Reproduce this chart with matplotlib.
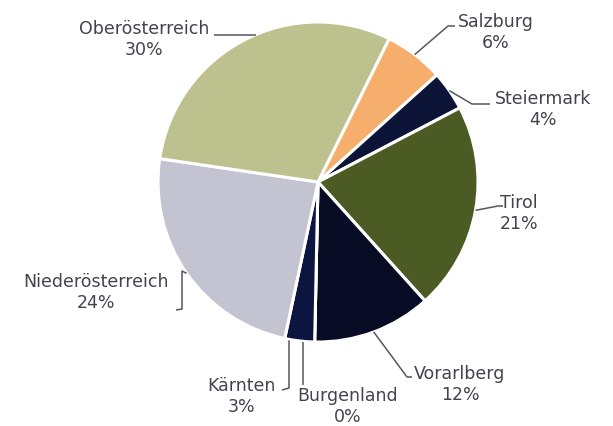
import numpy as np
import matplotlib.pyplot as plt

# Anteile nach Bundesland (Prozent), im Uhrzeigersinn ab Salzburg
regions = ['Salzburg', 'Steiermark', 'Tirol', 'Vorarlberg', 'Burgenland',
           'Kärnten', 'Niederösterreich', 'Oberösterreich']
shares = [6, 4, 21, 12, 0, 3, 24, 30]
colors = ['#f5ae6c', '#0c1538', '#4c5a24', '#070c24', '#0c1538',
          '#0c1440', '#c4c3d1', '#bdc18e']

W, H = 613, 427
cx, cy, R = 318, H - 183, 160

fig = plt.figure(figsize=(6.13, 4.27), dpi=100)
ax = fig.add_axes([0, 0, 1, 1])

explode = [0, 0.01, 0.025, 0.01, 0, 0, 0, 0]
wedges, _ = ax.pie(shares, colors=colors, startangle=63.6, counterclock=False,
                   center=(cx, cy), radius=R, explode=explode,
                   wedgeprops=dict(edgecolor='white', linewidth=2.2))
ax.set_xlim(0, W)
ax.set_ylim(0, H)
ax.set_aspect('equal')
ax.axis('off')

# Beschriftung: Textmitte (x, y von oben) und Knickpunkte der Hinweislinie
layout = {
    'Oberösterreich':   ((144, 29), [(214, 36)]),
    'Salzburg':         ((496, 22), [(448, 27), (455, 27)]),
    'Steiermark':       ((543, 99), [(472, 105), (490, 105)]),
    'Tirol':            ((519, 203), [(498, 207), (503, 207)]),
    'Vorarlberg':       ((460, 374), [(407, 378), (412, 378)]),
    'Burgenland':       ((348, 396), [(303, 386)]),
    'Kärnten':          ((241, 386), [(289, 389), (282, 391)]),
    'Niederösterreich': ((96, 282), [(182, 272), (182, 310), (176, 311)]),
}
# Linien, die senkrecht bzw. waagrecht am Kreisrand ansetzen
anchor_x = {'Burgenland': 303, 'Kärnten': 289}
anchor_y = {'Oberösterreich': 36}

for w, name, val in zip(wedges, regions, shares):
    mid = np.deg2rad((w.theta1 + w.theta2) / 2)
    px, py = cx + R * np.cos(mid), cy + R * np.sin(mid)
    if name in anchor_x:
        px = anchor_x[name]
        py = cy - np.sqrt(R**2 - (px - cx)**2) - 1
    if name in anchor_y:
        py = H - anchor_y[name]
        px = cx - np.sqrt(R**2 - (py - cy)**2) + 1
    (tx, ty), elbows = layout[name]
    xs = [px] + [p[0] for p in elbows]
    ys = [py] + [H - p[1] for p in elbows]
    ax.plot(xs, ys, color='#55565f', lw=1.1, solid_capstyle='butt')
    ax.text(tx, H - ty, name, ha='center', va='center', fontsize=12.5,
            color='#42434f')
    ax.text(tx, H - ty - 21, f'{val}%', ha='center', va='center',
            fontsize=12.5, color='#42434f')

fig.savefig('out.png', dpi=100)
